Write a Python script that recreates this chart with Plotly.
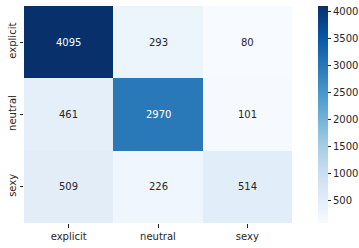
import plotly.graph_objects as go

labels = ["explicit", "neutral", "sexy"]
matrix = [
    [4095, 293, 80],
    [461, 2970, 101],
    [509, 226, 514],
]
cbar_ticks = [500, 1000, 1500, 2000, 2500, 3000, 3500, 4000]

blues = ["#f7fbff", "#deebf7", "#c6dbef", "#9ecae1", "#6baed6",
         "#4292c6", "#2171b5", "#08519c", "#08306b"]
colorscale = [[i / (len(blues) - 1), c] for i, c in enumerate(blues)]

zmin = min(min(r) for r in matrix)
zmax = max(max(r) for r in matrix)

fig = go.Figure(go.Heatmap(
    z=matrix, x=labels, y=labels,
    colorscale=colorscale, zmin=zmin, zmax=zmax,
    xgap=0, ygap=0,
    colorbar=dict(
        x=1.097, xanchor="left", xref="paper", xpad=0, ypad=0,
        y=0.5, yanchor="middle", len=1.0, lenmode="fraction",
        thickness=10, outlinewidth=0,
        tickvals=cbar_ticks, ticks="outside", ticklen=3.5, tickwidth=0.8,
        tickcolor="#262626",
        tickfont=dict(family="DejaVu Sans", size=10, color="#262626"),
    ),
    hoverinfo="skip",
))

annotations = []
for i, row in enumerate(matrix):
    for j, v in enumerate(row):
        frac = (v - zmin) / (zmax - zmin)
        annotations.append(dict(
            x=labels[j], y=labels[i], text=str(v), showarrow=False,
            font=dict(family="DejaVu Sans", size=10,
                      color="white" if frac > 0.55 else "#262626"),
        ))

fig.update_layout(
    width=359, height=248,
    margin=dict(l=24, r=67, t=6, b=25, autoexpand=False),
    paper_bgcolor="white", plot_bgcolor="white",
    annotations=annotations,
    xaxis=dict(showgrid=False, zeroline=False, ticks="outside", ticklen=3.5,
               tickwidth=0.8, tickcolor="#262626",
               tickfont=dict(family="DejaVu Sans", size=10, color="#262626")),
    yaxis=dict(showgrid=False, zeroline=False, autorange="reversed",
               ticks="outside", ticklen=3.5, tickwidth=0.8, tickcolor="#262626",
               tickangle=-90,
               tickfont=dict(family="DejaVu Sans", size=10, color="#262626")),
)

fig.write_html("out.html")
